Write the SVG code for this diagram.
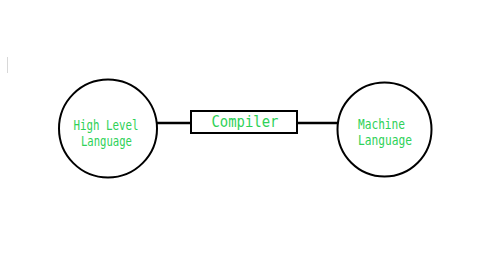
<svg xmlns="http://www.w3.org/2000/svg" width="494" height="263" viewBox="0 0 494 263">
  <style>
    .node { fill: #ffffff; stroke: #000000; stroke-width: 2; }
    .edge { stroke: #000000; stroke-width: 2.5; fill: none; }
    .label { fill: #2ed158; font-family: "DejaVu Sans Mono", "Liberation Mono", monospace; text-anchor: middle; }
  </style>
  <rect width="494" height="263" fill="#ffffff"/>
  <line x1="7.5" y1="57" x2="7.5" y2="73" stroke="#d8d8d8" stroke-width="1"/>
  <g id="connectors">
    <line class="edge" x1="157" y1="123" x2="191" y2="123"/>
    <line class="edge" x1="297" y1="123" x2="338" y2="123"/>
  </g>
  <g id="high-level">
    <circle class="node" cx="108" cy="128.5" r="49"/>
    <text class="label" x="106" y="130" font-size="13.5" textLength="65" lengthAdjust="spacingAndGlyphs">High Level</text>
    <text class="label" x="106.5" y="146" font-size="13.5" textLength="51" lengthAdjust="spacingAndGlyphs">Language</text>
  </g>
  <g id="compiler">
    <rect class="node" x="191" y="111" width="106" height="22"/>
    <text class="label" x="245" y="127" font-size="15" textLength="67" lengthAdjust="spacingAndGlyphs">Compiler</text>
  </g>
  <g id="machine">
    <circle class="node" cx="384.5" cy="129.5" r="47"/>
    <text class="label" x="381.5" y="128.5" font-size="13.5" textLength="47" lengthAdjust="spacingAndGlyphs">Machine</text>
    <text class="label" x="385" y="144.5" font-size="13.5" textLength="54" lengthAdjust="spacingAndGlyphs">Language</text>
  </g>
</svg>
